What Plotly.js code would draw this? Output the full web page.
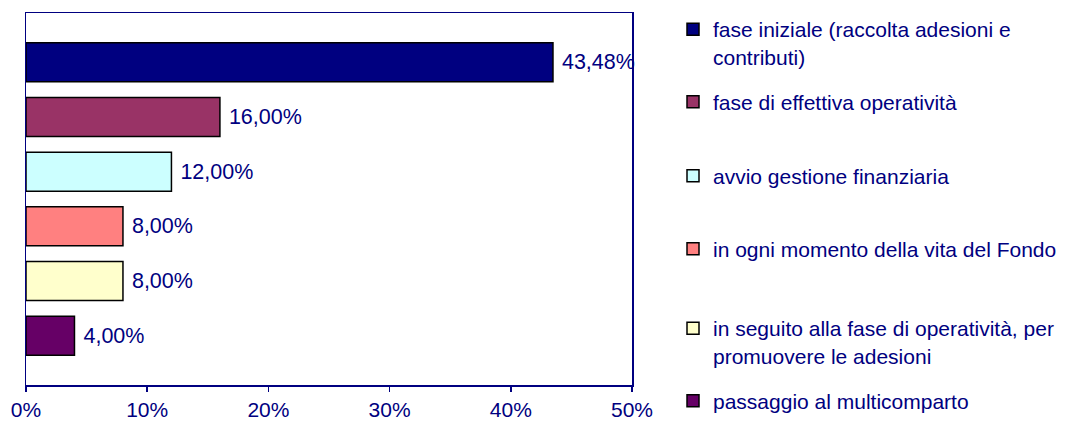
<!DOCTYPE html>
<html>
<head>
<meta charset="utf-8">
<script src="https://cdn.plot.ly/plotly-3.0.1.min.js"></script>
<style>html,body{margin:0;padding:0;background:#fff;}</style>
</head>
<body>
<div id="chart" style="width:1066px;height:426px;"></div>
<script>
const seriesNames = [
  "fase iniziale (raccolta adesioni e<br>contributi)",
  "fase di effettiva operatività",
  "avvio gestione finanziaria",
  "in ogni momento della vita del Fondo",
  "in seguito alla fase di operatività, per<br>promuovere le adesioni",
  "passaggio al multicomparto"
];
const seriesValues = [43.48, 16.00, 12.00, 8.00, 8.00, 4.00];
const category = [""];
const tickValues = [0, 10, 20, 30, 40, 50];
const tickLabels = ["0%", "10%", "20%", "30%", "40%", "50%"];

const colors = ["#000080", "#993366", "#CCFFFF", "#FF8080", "#FFFFCC", "#660066"];
const legendIds = ["legend", "legend2", "legend3", "legend4", "legend5", "legend6"];
const legendCentersPx = [43, 102, 176, 249, 342, 401];

const W = 1066, H = 426;
const margin = {l: 26, r: 434, t: 13, b: 41};
const navy = "#000080";
const fontFam = "Liberation Sans, Arial, sans-serif";

const traces = seriesNames.map((name, i) => ({
  type: "bar",
  orientation: "h",
  name: name,
  x: [seriesValues[i]],
  y: category,
  marker: {color: colors[i], line: {color: "#000000", width: 1.5}},
  texttemplate: "\u00a0%{x:.2f}%",
  textposition: "outside",
  cliponaxis: false,
  textfont: {family: fontFam, size: 21.5, color: navy},
  legend: legendIds[i],
  hoverinfo: "skip"
}));

const layout = {
  width: W, height: H,
  margin: margin,
  paper_bgcolor: "#ffffff",
  plot_bgcolor: "#ffffff",
  separators: ",.",
  barmode: "group",
  bargap: 0.118,
  bargroupgap: 0.287,
  showlegend: true,
  font: {family: fontFam, color: navy, size: 21},
  xaxis: {
    range: [0, 50],
    tickmode: "array",
    tickvals: tickValues,
    ticktext: tickLabels,
    ticks: "outside",
    ticklen: 5,
    tickwidth: 1.5,
    tickcolor: navy,
    showgrid: false,
    zeroline: false,
    showline: true,
    mirror: true,
    linecolor: navy,
    linewidth: 1.5,
    automargin: false,
    tickfont: {family: fontFam, size: 21, color: navy},
    fixedrange: true
  },
  yaxis: {
    type: "category",
    autorange: "reversed",
    showticklabels: false,
    ticks: "",
    showgrid: false,
    zeroline: false,
    showline: true,
    mirror: true,
    linecolor: navy,
    linewidth: 1.5,
    automargin: false,
    fixedrange: true
  }
};

legendIds.forEach((id, i) => {
  layout[id] = {
    xref: "container",
    yref: "container",
    x: 673 / W,
    xanchor: "left",
    y: 1 - legendCentersPx[i] / H,
    yanchor: "middle",
    bgcolor: "rgba(0,0,0,0)",
    borderwidth: 0,
    valign: "top",
    font: {family: fontFam, size: 21, color: navy}
  };
});

Plotly.newPlot("chart", traces, layout, {displayModeBar: false, staticPlot: true});
</script>
</body>
</html>
